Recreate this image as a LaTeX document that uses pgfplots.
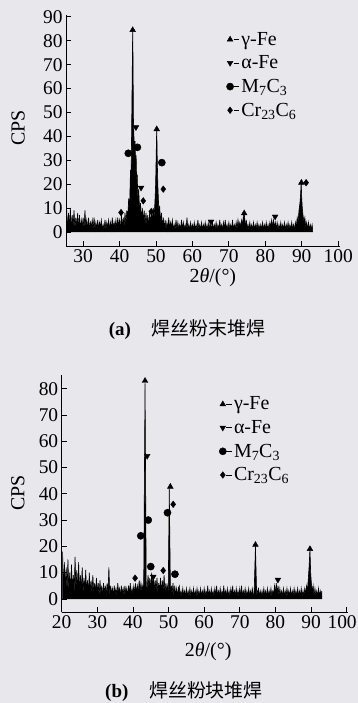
\documentclass[border=0pt]{standalone}
\usepackage{pgfplots}
\pgfplotsset{compat=1.18}
\usepackage{fontspec}
\setmainfont{Liberation Serif}
\newfontfamily\cjk{Noto Sans CJK SC}
\definecolor{bg}{RGB}{232,232,236}

\pgfplotsset{
  xrd/.style={
    scale only axis,
    axis lines=left,
    axis line style={-, line width=0.8pt},
    tick align=inside,
    major tick length=5bp,
    tick style={black, line width=0.8pt},
    minor tick num=0,
    /pgf/number format/assume math mode=true,
    ticklabel style={font=\fontsize{19.5}{19.5}\selectfont},
    label style={font=\fontsize{20}{20}\selectfont},
    ylabel={CPS},
    xlabel={2\textit{θ}/(°)},
    legend cell align=left,
    legend style={draw=none, fill=none, inner sep=0pt, row sep=5bp,
      font=\fontsize{20}{22}\selectfont, anchor=north west},
    legend image code/.code={%
      \draw[##1] plot coordinates {(0bp,0bp)};
      \draw[black, line width=0.5pt] (3.5bp,0bp) -- (9bp,0bp);},
    clip=false,
  },
  mk/.style={only marks, black, mark options={solid, fill=black}, mark size=3.3bp},
  xrdline/.style={black, fill=black, line width=0.6pt, forget plot},
}

\begin{document}
\begin{tikzpicture}
\path[use as bounding box, fill=bg] (0,0) rectangle (358bp,703bp);

% ---------------- panel (a) ----------------
\begin{axis}[xrd,
  at={(66bp,457bp)}, anchor=south west,
  width=274bp, height=231bp,
  xmin=25.3, xmax=100.5, ymin=-5.9, ymax=90.8,
  xtick={30,40,...,100}, ytick={0,10,...,90},
  ylabel style={at={(axis description cs:-0.175,0.51)}, anchor=center},
  xlabel style={at={(axis description cs:0.536,-0.139)}, anchor=center},
  legend style={at={(axis description cs:0.585,0.935)}},
]
\addplot[xrdline] table {
25.50 9
25.75 1
26.00 8
26.25 2
26.50 10
26.75 1
27.00 7
27.25 2
27.50 9
27.75 1
28.00 6
28.25 2
28.50 8
28.75 1
29.00 7
29.25 1
29.50 5
29.75 2
30.00 6
30.25 1
30.50 9
30.75 2
31.00 5
31.25 1
31.50 6
31.75 1
32.00 4
32.25 2
32.50 5
32.75 1
33.00 6
33.25 1
33.50 4
33.75 1
34.00 5
34.25 1
34.50 4
34.75 2
35.00 5
35.25 1
35.50 3
35.75 1
36.00 5
36.25 1
36.50 4
36.75 2
37.00 5
37.25 1
37.50 4
37.75 1
38.00 6
38.25 1
38.50 4
38.75 2
39.00 5
39.25 1
39.50 6
39.75 2
40.00 5
40.25 1
40.50 7
40.75 2
41.00 6
41.25 2
41.50 8
41.75 3
42.00 9
42.25 6
42.50 14
42.75 10
43.00 26
43.15 20
43.35 48
43.50 70
43.60 85
43.70 72
43.80 48
43.95 40
44.10 30
44.25 38
44.40 26
44.55 32
44.70 20
44.85 24
45.00 14
45.25 18
45.50 9
45.75 12
46.00 5
46.25 10
46.50 4
46.75 9
47.00 3
47.25 8
47.50 3
47.75 7
48.00 2
48.25 8
48.50 3
48.75 9
49.00 4
49.25 10
49.50 6
49.75 14
49.90 20
50.05 32
50.20 44
50.35 30
50.50 20
50.65 14
50.80 8
51.00 11
51.25 4
51.50 8
51.75 2
52.00 6
52.25 1
52.50 5
52.75 1
53.00 4
53.25 1
53.50 6
53.75 1
54.00 4
54.25 2
54.50 5
54.75 1
55.00 3
55.25 1
55.50 5
55.75 1
56.00 4
56.25 1
56.50 3
56.75 1
57.00 5
57.25 1
57.50 4
57.75 1
58.00 3
58.25 1
58.50 6
58.75 1
59.00 3
59.25 1
59.50 4
59.75 1
60.00 3
60.25 1
60.50 4
60.75 1
61.00 3
61.25 1
61.50 5
61.75 1
62.00 3
62.25 1
62.50 4
62.75 1
63.00 3
63.25 1
63.50 4
63.75 1
64.00 3
64.25 1
64.50 4
64.75 1
65.00 3
65.25 1
65.50 4
65.75 1
66.00 3
66.25 1
66.50 4
66.75 1
67.00 3
67.25 1
67.50 5
67.75 1
68.00 3
68.25 1
68.50 4
68.75 1
69.00 5
69.25 1
69.50 3
69.75 1
70.00 4
70.25 1
70.50 3
70.75 1
71.00 5
71.25 1
71.50 3
71.75 1
72.00 4
72.25 1
72.50 5
72.75 2
73.00 4
73.25 2
73.50 5
73.75 3
74.00 7
74.20 8
74.40 5
74.60 2
74.80 5
75.00 1
75.25 3
75.50 1
75.75 4
76.00 1
76.25 3
76.50 1
76.75 4
77.00 1
77.25 3
77.50 1
77.75 4
78.00 1
78.25 3
78.50 1
78.75 3
79.00 1
79.25 4
79.50 1
79.75 3
80.00 1
80.25 4
80.50 1
80.75 3
81.00 1
81.25 4
81.50 2
81.75 5
82.00 2
82.25 5
82.50 2
82.75 4
83.00 1
83.25 4
83.50 1
83.75 3
84.00 1
84.25 4
84.50 1
84.75 3
85.00 1
85.25 4
85.50 1
85.75 3
86.00 1
86.25 4
86.50 1
86.75 3
87.00 1
87.25 4
87.50 1
87.75 3
88.00 1
88.25 4
88.50 2
88.75 6
89.00 4
89.25 9
89.50 12
89.70 16
89.85 21
90.00 14
90.15 10
90.35 7
90.60 4
90.85 6
91.10 2
91.35 4
91.60 1
91.85 4
92.10 1
92.35 3
92.60 1
92.85 3
93.00 1
} \closedcycle;
\addplot[mk, mark=triangle*] coordinates {(43.6,84.5) (50.2,43) (74.2,7.8) (89.9,20.6)};
\addlegendentry{γ-Fe}
\addplot[mk, mark=triangle*, mark options={rotate=180}] coordinates {(44.5,43.8) (45.9,18.5) (65.1,4.3) (82.7,6.4)};
\addlegendentry{α-Fe}
\addplot[mk, mark=*, mark size=3.6bp] coordinates {(42.4,32.9) (44.9,35.4) (51.6,29)};
\addlegendentry{M\textsubscript{7}C\textsubscript{3}}
\addplot[mk, mark=diamond*] coordinates {(40.4,8.1) (46.5,13) (48.7,8.5) (52.0,17.9) (91.2,20.6)};
\addlegendentry{Cr\textsubscript{23}C\textsubscript{6}}
\end{axis}

\node[font=\fontsize{19}{19}\selectfont] at (187bp,373bp) {\textbf{(a)}\hspace{1.1em}{\cjk 焊丝粉末堆焊}};

% ---------------- panel (b) ----------------
\begin{axis}[xrd,
  at={(61.7bp,90.7bp)}, anchor=south west,
  width=286bp, height=237bp,
  xmin=20, xmax=100.3, ymin=-5.1, ymax=85.1,
  xtick={20,30,...,100}, ytick={0,10,...,80},
  xticklabels={20,30,40,50,60,70,80,90,{\hspace*{-9bp}100}},
  ylabel style={at={(axis description cs:-0.153,0.503)}, anchor=center},
  xlabel style={at={(axis description cs:0.512,-0.168)}, anchor=center},
  legend style={at={(axis description cs:0.55,0.918)}},
]
\addplot[xrdline] table {
20.25 18
20.50 2
20.75 14
21.00 3
21.25 12
21.50 2
21.75 15
22.00 3
22.25 10
22.50 2
22.75 13
23.00 3
23.25 9
23.50 2
23.75 16
24.00 3
24.25 11
24.50 2
24.75 14
25.00 3
25.25 9
25.50 2
25.75 12
26.00 2
26.25 8
26.50 3
26.75 11
27.00 2
27.25 7
27.50 2
27.75 10
28.00 2
28.25 7
28.50 2
28.75 9
29.00 2
29.25 6
29.50 2
29.75 8
30.00 2
30.25 6
30.50 1
30.75 7
31.00 2
31.25 5
31.50 1
31.75 6
32.00 2
32.25 5
32.50 1
32.75 6
33.00 2
33.25 12
33.50 1
33.75 5
34.00 2
34.25 4
34.50 1
34.75 5
35.00 2
35.25 4
35.50 1
35.75 6
36.00 2
36.25 4
36.50 1
36.75 5
37.00 2
37.25 4
37.50 1
37.75 5
38.00 2
38.25 4
38.50 1
38.75 5
39.00 2
39.25 6
39.50 1
39.75 4
40.00 2
40.25 5
40.50 2
40.75 6
41.00 2
41.25 5
41.50 2
41.75 7
42.00 3
42.25 6
42.50 3
42.75 5
43.00 1
43.40 82
43.75 1
44.00 4
44.25 9
44.50 4
44.75 8
45.00 3
45.25 10
45.50 4
45.75 9
46.00 3
46.25 7
46.50 3
46.75 8
47.00 2
47.25 6
47.50 3
47.75 8
48.00 2
48.25 7
48.50 3
48.75 9
49.00 2
49.25 6
49.50 3
49.75 5
49.90 1
50.20 42
50.55 1
50.80 5
51.00 2
51.25 6
51.50 1
51.75 5
52.00 1
52.25 4
52.50 1
52.75 4
53.00 5
53.25 1
53.50 3
53.75 1
54.00 4
54.25 1
54.50 3
54.75 1
55.00 4
55.25 1
55.50 3
55.75 1
56.00 4
56.25 1
56.50 3
56.75 1
57.00 4
57.25 1
57.50 3
57.75 1
58.00 4
58.25 1
58.50 3
58.75 1
59.00 4
59.25 1
59.50 3
59.75 1
60.00 4
60.25 1
60.50 3
60.75 1
61.00 5
61.25 1
61.50 3
61.75 1
62.00 4
62.25 1
62.50 3
62.75 1
63.00 4
63.25 1
63.50 5
63.75 1
64.00 3
64.25 1
64.50 4
64.75 1
65.00 3
65.25 1
65.50 5
65.75 1
66.00 3
66.25 1
66.50 4
66.75 1
67.00 3
67.25 1
67.50 4
67.75 1
68.00 5
68.25 1
68.50 3
68.75 1
69.00 4
69.25 1
69.50 3
69.75 1
70.00 4
70.25 1
70.50 5
70.75 1
71.00 3
71.25 1
71.50 4
71.75 1
72.00 3
72.25 1
72.50 4
72.75 1
73.00 3
73.25 1
73.50 4
73.75 2
74.00 1
74.40 20
74.75 1
75.00 3
75.25 4
75.50 1
75.75 3
76.00 1
76.25 3
76.50 1
76.75 4
77.00 1
77.25 3
77.50 1
77.75 4
78.00 1
78.25 3
78.50 1
78.75 4
79.00 1
79.25 3
79.50 2
79.75 5
80.00 2
80.25 6
80.50 2
80.75 5
81.00 1
81.25 4
81.50 1
81.75 3
82.00 1
82.25 4
82.50 1
82.75 3
83.00 1
83.25 4
83.50 1
83.75 3
84.00 1
84.25 4
84.50 1
84.75 3
85.00 1
85.25 4
85.50 1
85.75 3
86.00 1
86.25 4
86.50 1
86.75 3
87.00 1
87.25 4
87.50 1
87.75 3
88.00 1
88.25 4
88.50 2
88.75 5
89.00 3
89.25 8
89.45 12
89.70 19
89.90 10
90.10 6
90.35 3
90.60 5
90.85 1
91.10 4
91.35 1
91.60 3
91.85 1
92.10 4
92.35 1
92.60 3
92.85 1
93.00 3
} \closedcycle;
\addplot[mk, mark=triangle*] coordinates {(43.4,83) (50.5,42.7) (74.4,20.6) (89.7,19)};
\addlegendentry{γ-Fe}
\addplot[mk, mark=triangle*, mark options={rotate=180}] coordinates {(44.0,54.4) (45.7,8.4) (80.7,7.3)};
\addlegendentry{α-Fe}
\addplot[mk, mark=*, mark size=3.6bp] coordinates {(42.2,24) (44.3,30) (45.0,12.3) (49.7,32.8) (51.8,9.4)};
\addlegendentry{M\textsubscript{7}C\textsubscript{3}}
\addplot[mk, mark=diamond*] coordinates {(40.6,7.9) (48.5,10.8) (51.3,36)};
\addlegendentry{Cr\textsubscript{23}C\textsubscript{6}}
\end{axis}

\node[font=\fontsize{19}{19}\selectfont] at (184bp,11bp) {\textbf{(b)}\hspace{1.1em}{\cjk 焊丝粉块堆焊}};
\end{tikzpicture}
\end{document}
